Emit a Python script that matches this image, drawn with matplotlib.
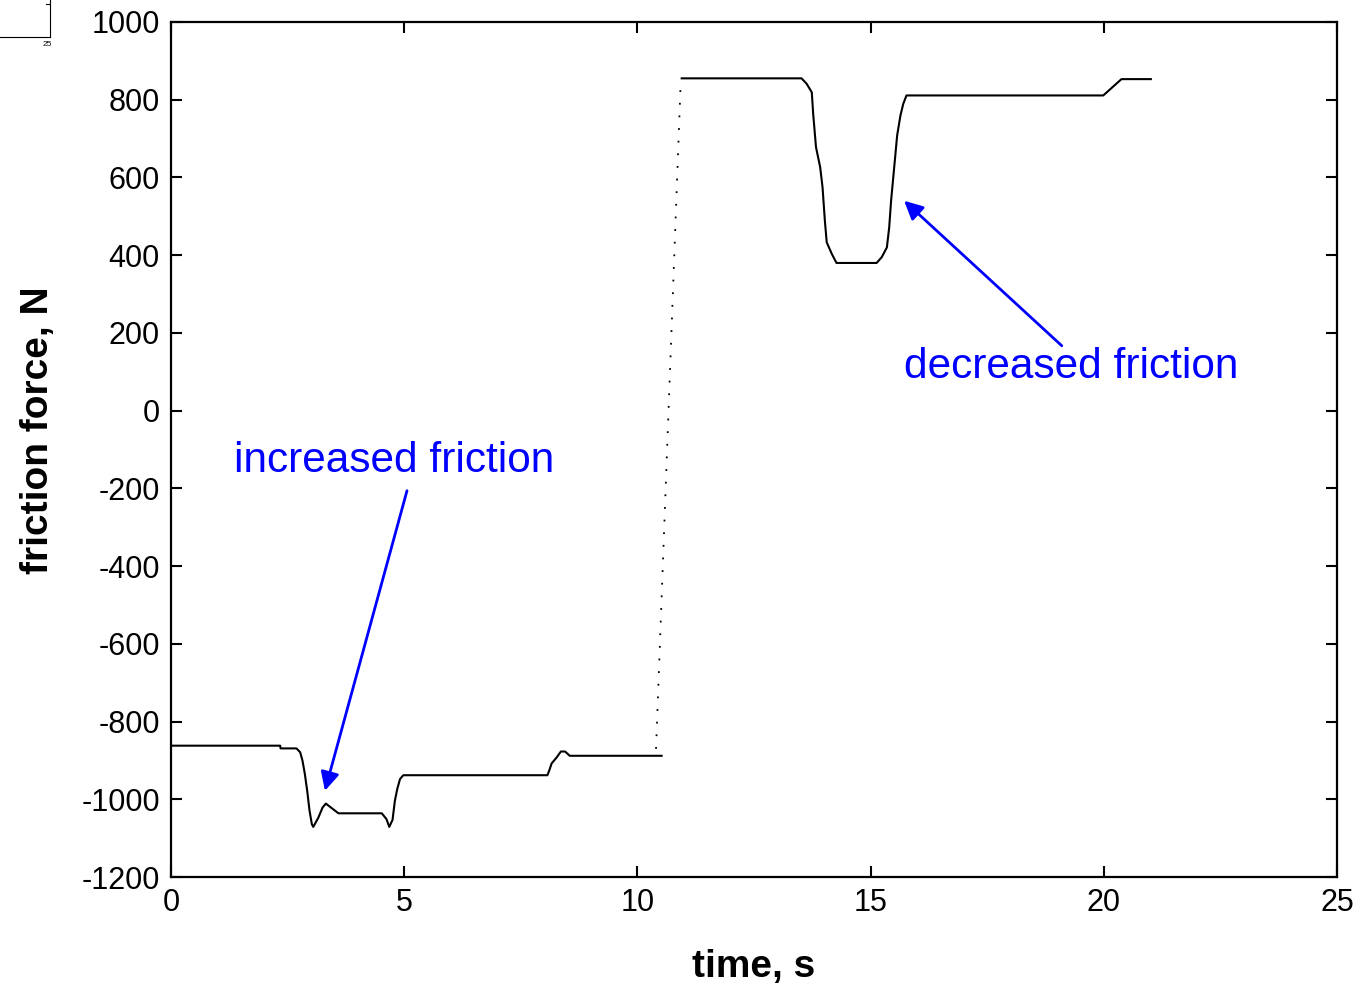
import numpy as np
import matplotlib
matplotlib.use("Agg")
import matplotlib.pyplot as plt
from matplotlib.lines import Line2D

plt.rcParams["axes.unicode_minus"] = False

# friction force trace (time s, force N)
t_before = [0, 2.34, 2.35, 2.69, 2.77, 2.82, 2.87, 2.92, 2.97, 3.02, 3.05, 3.16, 3.25, 3.32,
            3.45, 3.59, 4.52, 4.62, 4.68, 4.75, 4.80, 4.85, 4.91, 4.98, 8.07, 8.11, 8.16,
            8.27, 8.36, 8.45, 8.55, 10.52]
f_before = [-862, -862, -869, -869, -879, -901, -935, -978, -1029, -1064, -1071, -1047, -1021, -1011,
            -1023, -1036, -1036, -1051, -1071, -1053, -1004, -974, -948, -938, -938, -926, -908,
            -892, -877, -877, -888, -888]

t_after = [10.95, 13.52, 13.63, 13.74, 13.77, 13.83, 13.92, 13.97, 14.02, 14.06, 14.17, 14.27,
           15.13, 15.24, 15.35, 15.40, 15.44, 15.52, 15.57, 15.64, 15.70, 15.77, 19.99, 20.38, 21.01]
f_after = [855, 855, 841, 819, 763, 678, 626, 575, 489, 433, 403, 380,
           380, 395, 420, 472, 540, 643, 708, 759, 789, 811, 811, 853, 853]

# reversal of sliding direction (dotted)
t_switch = [10.40, 10.93]
f_switch = [-870, 850]

xticks = [0, 5, 10, 15, 20, 25]
yticks = [-1200, -1000, -800, -600, -400, -200, 0, 200, 400, 600, 800, 1000]

fig = plt.figure(figsize=(13.67, 9.86), dpi=100)
ax = fig.add_axes([0.1251, 0.1105, 0.978 - 0.1251, 0.9777 - 0.1105])

ax.plot(t_before, f_before, color="black", lw=1.5)
ax.plot(t_after, f_after, color="black", lw=1.5)
ax.plot(t_switch, f_switch, color="black", lw=1.3, linestyle=(0, (1, 6)))

ax.set_xlim(0, 25)
ax.set_ylim(-1200, 1000)
ax.set_xticks(xticks)
ax.set_yticks(yticks)
ax.tick_params(direction="in", length=8, width=1.5, top=True, right=True, pad=8,
               labelsize=22)
for lab in ax.get_xticklabels() + ax.get_yticklabels():
    lab.set_family("Liberation Sans")
for s in ax.spines.values():
    s.set_linewidth(1.6)

lab_font = dict(family=["Liberation Sans Narrow", "DejaVu Sans Condensed", "Liberation Sans"],
                weight="bold", size=28)
ax.set_xlabel("time, s", labelpad=22, **lab_font)
ax.set_ylabel("friction force, N", **lab_font)
ax.yaxis.set_label_coords(-0.099, 0.523)

# annotations
ann_font = dict(family="Liberation Sans", size=30.5, color="blue")
ax.text(4.78, -129, "increased friction", ha="center", va="center", **ann_font)
ax.annotate("", xy=(3.30, -978), xytext=(5.06, -206),
            arrowprops=dict(arrowstyle="-|>", color="blue", lw=2, mutation_scale=28,
                            shrinkA=0, shrinkB=0))
ax.text(19.30, 113, "decreased friction", ha="center", va="center", **ann_font)
ax.annotate("", xy=(15.72, 540), xytext=(19.10, 167),
            arrowprops=dict(arrowstyle="-|>", color="blue", lw=2, mutation_scale=28,
                            shrinkA=0, shrinkB=0))

# leftover corner of a neighbouring figure in the top-left
fig.add_artist(Line2D([0, 50 / 1367], [1 - 37 / 986, 1 - 37 / 986], color="black", lw=0.8))
fig.add_artist(Line2D([50 / 1367, 50 / 1367], [1, 1 - 37 / 986], color="black", lw=0.8))
fig.add_artist(Line2D([46 / 1367, 50 / 1367], [1 - 4 / 986, 1 - 4 / 986], color="black", lw=0.8))
fig.text(47 / 1367, 1 - 45 / 986, "25", ha="center", va="center", fontsize=6,
         family="Liberation Sans")

fig.savefig("out.png", dpi=100)
